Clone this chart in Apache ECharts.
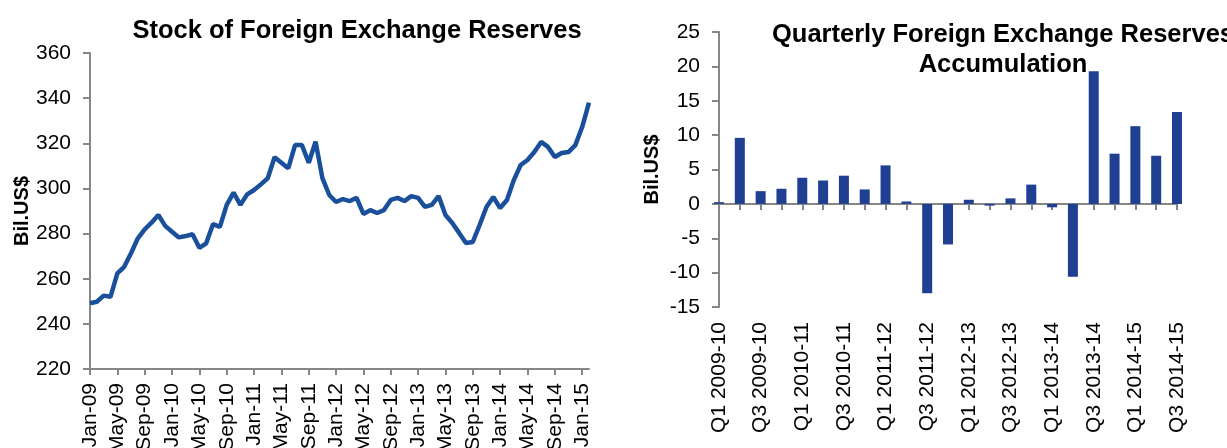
<!DOCTYPE html>
<html>
<head>
<meta charset="utf-8">
<script src="https://cdn.jsdelivr.net/npm/echarts@6/dist/echarts.min.js"></script>
<style>
html, body { margin: 0; padding: 0; background: #fff; }
#main { width: 1227px; height: 448px; }
</style>
</head>
<body>
<div id="main"></div>
<script>
// monthly stock of reserves, Jan-09 .. Feb-15
var monthNames = ['Jan','Feb','Mar','Apr','May','Jun','Jul','Aug','Sep','Oct','Nov','Dec'];
var months = [];
for (var y = 9; y <= 15; y++) {
    for (var m = 0; m < 12; m++) {
        if (y == 15 && m > 1) break;
        months.push(monthNames[m] + '-' + (y < 10 ? '0' + y : y));
    }
}
var reserves = [
    249.1, 249.8, 252.5, 252.0, 262.4, 265.3, 271.3, 277.9, 281.9, 284.8, 288.2, 283.4,
    280.8, 278.3, 278.9, 279.7, 273.7, 275.7, 284.2, 283.0, 292.7, 298.1, 292.7, 297.4,
    299.3, 301.8, 304.5, 313.8, 311.4, 308.9, 319.2, 319.2, 311.4, 320.7, 304.6, 297.1,
    294.0, 295.3, 294.4, 295.8, 288.7, 290.4, 289.1, 290.4, 294.9, 295.8, 294.4, 296.6,
    295.8, 291.8, 292.7, 296.6, 288.2, 284.7, 280.3, 275.8, 276.3, 283.8, 291.8, 296.2,
    291.3, 294.9, 303.7, 310.4, 312.6, 316.1, 320.6, 318.4, 313.9, 315.7, 316.1, 319.2,
    327.2, 338.0
];

// quarterly accumulation
var quarters = [
    'Q1 2009-10', 'Q2 2009-10', 'Q3 2009-10', 'Q4 2009-10',
    'Q1 2010-11', 'Q2 2010-11', 'Q3 2010-11', 'Q4 2010-11',
    'Q1 2011-12', 'Q2 2011-12', 'Q3 2011-12', 'Q4 2011-12',
    'Q1 2012-13', 'Q2 2012-13', 'Q3 2012-13', 'Q4 2012-13',
    'Q1 2013-14', 'Q2 2013-14', 'Q3 2013-14', 'Q4 2013-14',
    'Q1 2014-15', 'Q2 2014-15', 'Q3 2014-15'
];
var accumulation = [
    0.25, 9.6, 1.85, 2.2,
    3.8, 3.4, 4.1, 2.1,
    5.6, 0.35, -13.0, -5.9,
    0.6, -0.25, 0.8, 2.8,
    -0.5, -10.6, 19.3, 7.3,
    11.3, 7.0, 13.35
];

var font = '"Liberation Sans", Arial, sans-serif';
var axisGrey = '#868686';

var chart = echarts.init(document.getElementById('main'));

var yAxisBase = function (min, max, interval, gap) {
    return {
        type: 'value',
        min: min,
        max: max,
        interval: interval,
        name: 'Bil.US$',
        nameLocation: 'middle',
        nameGap: gap,
        nameTextStyle: { fontFamily: font, fontSize: 20, fontWeight: 'bold', color: '#000' },
        splitLine: { show: false },
        axisLine: { show: true, lineStyle: { color: axisGrey, width: 2 } },
        axisTick: { show: true, length: 7, lineStyle: { color: axisGrey, width: 2 } },
        axisLabel: { fontFamily: font, fontSize: 21, color: '#000', margin: 19 }
    };
};

var option = {
    backgroundColor: '#fff',
    animation: false,
    title: [
        {
            text: 'Stock of Foreign Exchange Reserves',
            left: 352,
            top: 13,
            textAlign: 'center',
            textStyle: { fontFamily: font, fontSize: 25.5, fontWeight: 'bold', color: '#000' }
        },
        {
            text: 'Quarterly Foreign Exchange Reserves\nAccumulation',
            left: 998,
            top: 15,
            textAlign: 'center',
            textStyle: { fontFamily: font, fontSize: 25.5, fontWeight: 'bold', color: '#000', lineHeight: 30 }
        }
    ],
    grid: [
        { left: 90, right: 638, top: 53, bottom: 79, outerBoundsMode: 'none', containLabel: false },
        { left: 719, right: 50, top: 32, bottom: 141, outerBoundsMode: 'none', containLabel: false }
    ],
    xAxis: [
        {
            type: 'category',
            gridIndex: 0,
            data: months,
            boundaryGap: false,
            axisLine: { lineStyle: { color: axisGrey, width: 2 } },
            axisTick: { interval: 3, length: 6, lineStyle: { color: axisGrey, width: 2 } },
            axisLabel: { interval: 3, rotate: 90, margin: 14, fontFamily: font, fontSize: 21, color: '#000' }
        },
        {
            // line at zero with ticks
            type: 'category',
            gridIndex: 1,
            data: quarters,
            boundaryGap: false,
            axisLine: { onZero: true, lineStyle: { color: axisGrey, width: 2 } },
            axisTick: { interval: 0, length: 6, lineStyle: { color: axisGrey, width: 2 } },
            axisLabel: { show: false }
        },
        {
            // labels at the bottom of the plot
            type: 'category',
            gridIndex: 1,
            position: 'bottom',
            data: quarters,
            boundaryGap: false,
            axisLine: { show: false, onZero: false },
            axisTick: { show: false },
            axisLabel: { interval: 1, rotate: 90, margin: 15, fontFamily: font, fontSize: 21, color: '#000' }
        }
    ],
    yAxis: [
        Object.assign(yAxisBase(220, 360, 20, 55), { gridIndex: 0 }),
        Object.assign(yAxisBase(-15, 25, 5, 57), { gridIndex: 1 })
    ],
    series: [
        {
            name: 'Stock',
            type: 'line',
            xAxisIndex: 0,
            yAxisIndex: 0,
            data: reserves,
            symbol: 'none',
            lineStyle: { color: '#1A4F9C', width: 4.5 }
        },
        {
            name: 'Accumulation',
            type: 'bar',
            xAxisIndex: 1,
            yAxisIndex: 1,
            data: accumulation,
            barWidth: 10,
            itemStyle: { color: '#1F3F93' }
        }
    ]
};

chart.setOption(option);
</script>
</body>
</html>
